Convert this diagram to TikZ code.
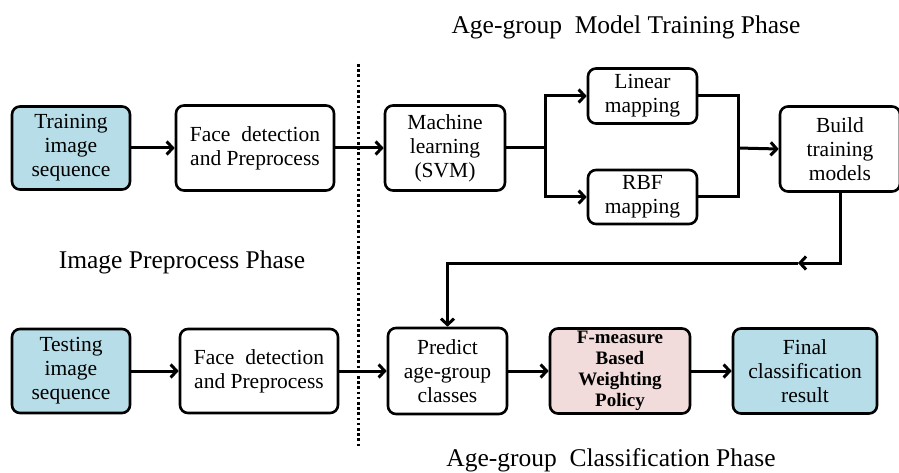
\documentclass[tikz,border=0pt]{standalone}
\usepackage{fontspec}
\setmainfont{Liberation Serif}
\usetikzlibrary{arrows.meta}
\definecolor{boxblue}{HTML}{B7DDE8}
\definecolor{boxpink}{HTML}{F2DCDB}
\begin{document}
\begin{tikzpicture}[x=1pt,y=-1pt,
  blk/.style={draw=black,line width=2.6pt,rounded corners=8pt,align=center,
    inner sep=0pt,font=\fontsize{21.5}{24}\selectfont},
  conn/.style={line width=3pt,-{Straight Barb[length=6pt,width=13pt]}},
  plain/.style={line width=3pt},
  phase/.style={font=\fontsize{25.5}{28}\selectfont,inner sep=0pt}]
\useasboundingbox (0,0) rectangle (899,473);
% row 1
\node[blk,fill=boxblue,minimum width=118pt,minimum height=83pt] (train) at (71,148) {Training\\image\\sequence};
\node[blk,minimum width=158pt,minimum height=85pt] (face1) at (255,148) {Face\ \ detection\\and Preprocess};
\node[blk,minimum width=120pt,minimum height=85pt] (ml) at (445,148) {Machine\\learning\\(SVM)};
\node[blk,minimum width=109pt,minimum height=55pt] (lin) at (642.5,96) {Linear\\mapping};
\node[blk,minimum width=109pt,minimum height=54pt] (rbf) at (642.5,197) {RBF\\mapping};
\node[blk,minimum width=120pt,minimum height=85pt] (build) at (840,149) {Build\\training\\models};
% row 2
\node[blk,fill=boxblue,minimum width=118pt,minimum height=84pt] (test) at (71,371) {Testing\\image\\sequence};
\node[blk,minimum width=158pt,minimum height=84pt] (face2) at (259,371) {Face\ \ detection\\and Preprocess};
\node[blk,minimum width=119pt,minimum height=86pt] (pred) at (447.5,371) {Predict\\age-group\\classes};
\node[blk,fill=boxpink,minimum width=140pt,minimum height=85pt,font=\fontsize{19}{21}\selectfont\bfseries] (fm) at (620,371) {F-measure\\Based\\Weighting\\Policy};
\node[blk,fill=boxblue,minimum width=144pt,minimum height=85pt] (final) at (805,371) {Final\\classification\\result};
% phase labels
\node[phase] (t1) at (626,27) {Age-group\ \ Model Training Phase};
\node[phase] (t2) at (182,262) {Image Preprocess Phase};
\node[phase] (t3) at (611,460) {Age-group\ \ Classification Phase};
% dotted separator
\coordinate (d1) at (358,64);
\coordinate (d2) at (358,446);
\draw[line width=3pt,dash pattern=on 2.6pt off 2.6pt] (d1) -- (d2);
% connectors row 1
\draw[conn] (train.east) -- (face1.west);
\draw[conn] (face1.east) -- (ml.west);
\coordinate (j1) at (545,148);
\coordinate (j2) at (738,148);
\draw[plain] (ml.east) -- (j1);
\draw[conn] (j1) |- (lin.west);
\draw[conn] (j1) |- (rbf.west);
\draw[plain] (lin.east) -| (j2);
\draw[plain] (rbf.east) -| (j2);
\draw[conn] (j2) -- (build.west);
% feedback
\coordinate (fb) at (798,263);
\draw[conn] (build.south) |- (fb);
\draw[conn] (fb) -| (pred.north);
% connectors row 2
\draw[conn] (test.east) -- (face2.west);
\draw[conn] (face2.east) -- (pred.west);
\draw[conn] (pred.east) -- (fm.west);
\draw[conn] (fm.east) -- (final.west);
\end{tikzpicture}
\end{document}
